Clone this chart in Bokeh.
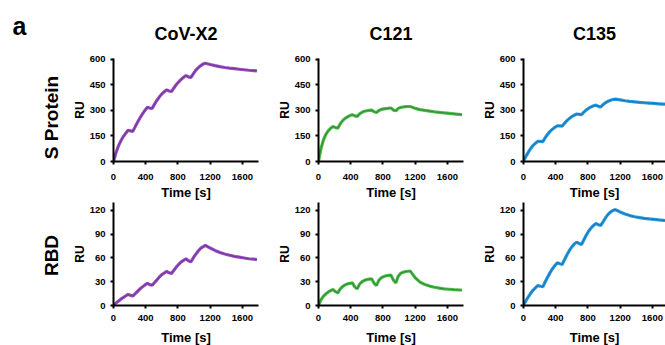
import math
from bokeh.plotting import figure
from bokeh.layouts import column, row
from bokeh.models import Range1d, FixedTicker
from bokeh.core.properties import value
from bokeh.embed import file_html
from bokeh.resources import INLINE

# ---------------- data ----------------
time_s = [0, 30, 60, 90, 120, 150, 180, 210, 240, 270, 300, 330, 360, 390, 420,
          450, 480, 510, 540, 570, 600, 630, 660, 690, 720, 750, 780, 810, 840,
          870, 900, 930, 960, 990, 1020, 1050, 1080, 1110, 1140,
          1200, 1260, 1320, 1380, 1440, 1500, 1560, 1620, 1680, 1740, 1780]

s_covx2 = [0, 50, 90, 120, 145, 165, 183, 180, 177, 205, 232, 257, 280, 300, 318,
           314, 312, 337, 360, 380, 397, 410, 421, 414, 411, 432, 452, 468, 482,
           495, 505, 497, 493, 515, 535, 550, 562, 572, 577,
           570, 563, 557, 552, 548, 545, 542, 539, 536, 534, 532]
s_c121 = [0, 75, 125, 158, 180, 195, 206, 199, 196, 222, 240, 253, 262, 270, 275,
          268, 265, 280, 289, 295, 298, 300, 302, 292, 288, 300, 306, 309, 311,
          313, 314, 302, 298, 312, 318, 320, 322, 323, 323,
          312, 305, 300, 296, 292, 289, 286, 283, 280, 277, 275]
s_c135 = [0, 30, 55, 77, 95, 108, 119, 118, 117, 140, 160, 177, 190, 201, 210,
          209, 208, 225, 240, 253, 264, 272, 279, 277, 275, 290, 303, 313, 321,
          327, 331, 324, 321, 335, 346, 354, 360, 364, 366,
          362, 357, 353, 350, 347, 345, 343, 341, 339, 337, 336]
rbd_covx2 = [0, 3, 5.5, 8, 10, 12, 14, 12.8, 12, 15, 18, 21, 23.5, 26, 28,
             26.3, 25.5, 29, 32.5, 36, 39, 41, 43, 41.3, 40.5, 44.5, 48.5, 52, 55,
             57, 59, 56.5, 55, 60, 64.5, 68.5, 72, 74, 76,
             72.5, 69.5, 67, 65, 63.5, 62, 61, 60, 59, 58.5, 58]
rbd_c121 = [0, 7, 11.5, 14.5, 17, 18.8, 20.2, 17.5, 16, 21, 24, 26, 27.3, 28, 28.6,
            23.5, 21, 27, 30, 31.7, 32.7, 33.3, 33.7, 28, 25.3, 32, 35, 36.5, 37.5,
            38, 38.3, 32, 28.6, 37, 40.5, 42, 42.8, 43.2, 43.4,
            35, 29.5, 26.5, 24.5, 23, 22, 21, 20.5, 20, 19.6, 19.4]
rbd_c135 = [0, 6, 11, 15.5, 19.5, 22.5, 25.3, 24.3, 23.6, 30, 36, 41.5, 46.5, 50.5, 54,
            52.7, 51.8, 58, 64, 69.5, 74, 77.5, 80, 78.3, 77, 83, 89, 94, 98,
            101, 103.6, 102, 101, 106, 111, 115, 118, 120, 121,
            118, 115.5, 113.5, 112, 111, 110, 109.3, 108.7, 108, 107.5, 107]

antibodies = ["CoV-X2", "C121", "C135"]
row_labels = ["S Protein", "RBD"]
panel_letter = "a"
series = [[s_covx2, s_c121, s_c135], [rbd_covx2, rbd_c121, rbd_c135]]
y_ticks = [[0, 150, 300, 450, 600], [0, 30, 60, 90, 120]]
y_max = [605, 130]
x_ticks = [0, 400, 800, 1200, 1600]
colors_light = ["#9a52c2", "#4fc04f", "#2a9de0"]
colors_dark = ["#6e2f92", "#2f7f2f", "#176fae"]

FONT = "Liberation Sans"
LABEL_W = 68
TITLE_H = 45
TOTAL_W = 665
TOTAL_H = 345
FW = [145, 145, 142]
FH = 103
X_END = [1800, 1800, 1800 * 142 / 145]
BL = [45, 50, 50]
BR = [10, 10, 0]
BT = [13, 0]
BB = [40, 41]


def make(r, c):
    p = figure(frame_width=FW[c], frame_height=FH,
               min_border_left=BL[c], min_border_right=BR[c],
               min_border_top=BT[r], min_border_bottom=BB[r],
               x_range=Range1d(0, X_END[c]), y_range=Range1d(0, y_max[r]),
               output_backend="svg", toolbar_location=None,
               background_fill_color="white", border_fill_color="white")
    p.outline_line_color = None
    p.grid.visible = False
    for ax in (p.xaxis[0], p.yaxis[0]):
        ax.axis_line_width = 2
        ax.axis_line_color = "black"
        ax.major_tick_line_width = 2
        ax.major_tick_line_color = "black"
        ax.major_tick_in = 0
        ax.major_tick_out = 3
        ax.minor_tick_line_color = None
        ax.major_label_text_font = FONT
        ax.major_label_text_font_style = "bold"
        ax.major_label_text_font_size = "9.5px"
        ax.major_label_text_color = "black"
        ax.axis_label_text_font = FONT
        ax.axis_label_text_font_style = "bold"
        ax.axis_label_text_color = "black"
    p.xaxis.ticker = FixedTicker(ticks=x_ticks)
    p.yaxis.ticker = FixedTicker(ticks=y_ticks[r])
    p.xaxis.axis_label = "Time [s]"
    p.xaxis.axis_label_text_font_size = "13px"
    p.xaxis.major_label_standoff = 9 if r == 0 else 6
    p.xaxis.axis_label_standoff = 2 if r == 0 else 6
    p.yaxis.axis_label = "RU"
    p.yaxis.axis_label_text_font_size = "12px"
    p.yaxis.major_label_standoff = 5
    p.yaxis.axis_label_standoff = 0

    p.line(time_s, series[r][c], line_color=colors_light[c], line_width=3.2)
    p.line(time_s, series[r][c], line_color=colors_dark[c], line_width=1.2, line_alpha=0.8)
    return p


def text_strip(w, h):
    s = figure(width=w, height=h, min_border=0,
               x_range=Range1d(0, w), y_range=Range1d(0, h),
               x_axis_type=None, y_axis_type=None,
               output_backend="svg", toolbar_location=None)
    s.outline_line_color = None
    s.grid.visible = False
    return s


# left strip holding panel letter and row labels (pixel-like coordinates)
lab = text_strip(LABEL_W, TOTAL_H)
lab.text(x=[51, 51], y=[TOTAL_H - 117, TOTAL_H - 255], text=row_labels,
         angle=math.pi / 2, text_align="center", text_baseline="middle",
         text_font=value(FONT), text_font_style="bold",
         text_font_size="19px", text_color="black")
lab.text(x=[12], y=[TOTAL_H - 25], text=[panel_letter],
         text_align="left", text_baseline="middle",
         text_font=value(FONT), text_font_style="bold",
         text_font_size="25px", text_color="black")

# top strip holding the column titles
top = text_strip(TOTAL_W - LABEL_W, TITLE_H)
title_x = [185.5 - LABEL_W, 390.5 - LABEL_W, 594 - LABEL_W]
top.text(x=title_x, y=[TITLE_H - 33] * 3, text=antibodies,
         text_align="center", text_baseline="middle",
         text_font=value(FONT), text_font_style="bold",
         text_font_size="18px", text_color="black")

rows = [row(*[make(r, c) for c in range(3)]) for r in range(2)]
layout = row(lab, column(top, *rows))

open("out.html", "w").write(file_html(layout, INLINE))
